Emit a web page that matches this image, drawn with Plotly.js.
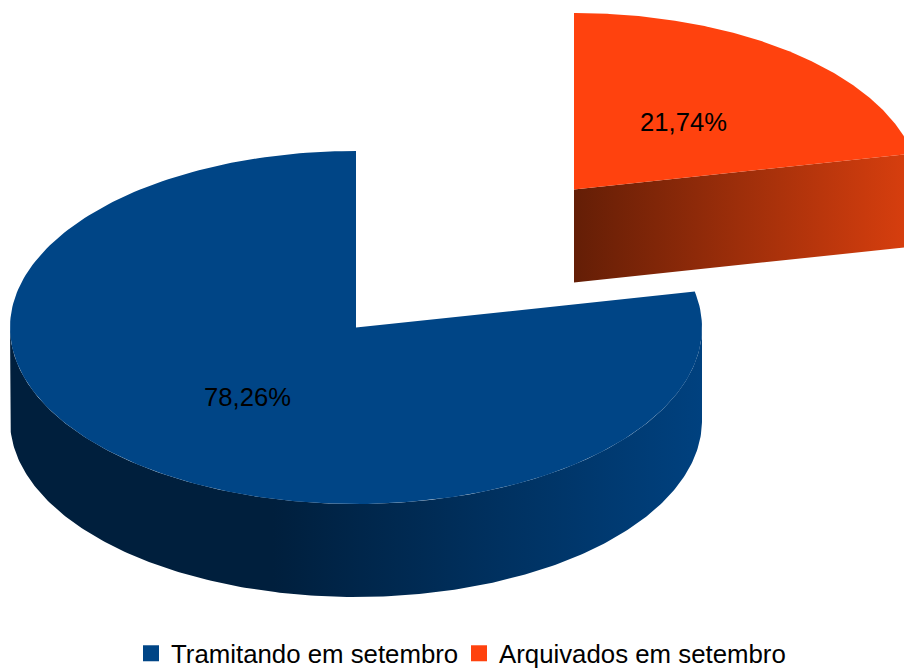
<!DOCTYPE html>
<html>
<head>
<meta charset="utf-8">
<script src="https://cdn.plot.ly/plotly-3.0.1.min.js"></script>
<style>html,body{margin:0;padding:0;background:#fff}#chart{width:904px;height:668px}</style>
</head>
<body>
<div id="chart"></div>
<script>
const categories = ["Tramitando em setembro", "Arquivados em setembro"];
const shares = [78.26, 21.74];
const shareLabels = ["78,26%", "21,74%"];
const topColors = ["#004586", "#ff420e"];

const W = 904, H = 668;
const RX = 346, RY = 176.5, DEPTH = 93;
const FONT = "'Liberation Sans', Arial, sans-serif";
const split = shares[1] / 100 * 2 * Math.PI; // clockwise from 12 o'clock

function pt(cx, cy, a, dy) {
  return [cx + RX * Math.sin(a), cy - RY * Math.cos(a) + (dy || 0)];
}
function arc(cx, cy, a0, a1, dy) {
  const n = 240, out = [];
  for (let i = 0; i <= n; i++) out.push(pt(cx, cy, a0 + (a1 - a0) * i / n, dy));
  return out;
}
function xy(points) {
  return { x: points.map(p => p[0]), y: points.map(p => p[1]) };
}
function shape(points, extra) {
  return Object.assign(xy(points), {
    type: "scatter", mode: "lines", fill: "toself", hoverinfo: "skip",
    line: { width: 0 }, showlegend: false
  }, extra);
}

const c0 = [356, 327.5], c1 = [574, 189.5];

const blueTop = [c0].concat(arc(c0[0], c0[1], split, 2 * Math.PI));
const blueSide = arc(c0[0], c0[1], Math.PI / 2, 1.5 * Math.PI, 0)
  .concat(arc(c0[0], c0[1], 1.5 * Math.PI, Math.PI / 2, DEPTH));
const orangeTop = [c1].concat(arc(c1[0], c1[1], 0, split));
const orangeSide = [c1, pt(c1[0], c1[1], split), pt(c1[0], c1[1], split, DEPTH), [c1[0], c1[1] + DEPTH]];

const traces = [
  shape(blueSide, {
    fillcolor: "#002a52",
    fillgradient: {
      type: "horizontal", start: 10, stop: 702,
      colorscale: [[0, "#001f3d"], [0.38, "#001f3d"], [1, "#00417f"]]
    }
  }),
  shape(blueTop, { fillcolor: topColors[0] }),
  shape(orangeSide, {
    fillcolor: "#992b0a",
    fillgradient: {
      type: "horizontal", start: 574, stop: 904,
      colorscale: [[0, "#641e06"], [1, "#d63e0e"]]
    }
  }),
  shape(orangeTop, { fillcolor: topColors[1] }),
  {
    type: "scatter", mode: "text", hoverinfo: "skip", showlegend: false,
    x: [247.5, 683.5], y: [400, 125], text: shareLabels,
    textposition: "middle center",
    textfont: { family: FONT, size: 25.6, color: "#000" }
  },
  {
    type: "scatter", mode: "markers", name: categories[0], x: [null], y: [null],
    marker: { symbol: "square", size: 16, color: topColors[0] }, legend: "legend"
  },
  {
    type: "scatter", mode: "markers", name: categories[1], x: [null], y: [null],
    marker: { symbol: "square", size: 16, color: topColors[1] }, legend: "legend2"
  }
];

const legendBase = {
  orientation: "h", xref: "paper", yref: "paper", xanchor: "left", yanchor: "middle",
  bgcolor: "rgba(0,0,0,0)", borderwidth: 0, itemsizing: "trace", indentation: -3,
  font: { family: FONT, size: 25.8, color: "#000" }
};

const layout = {
  width: W, height: H,
  margin: { l: 0, r: 0, t: 0, b: 0, pad: 0, autoexpand: false },
  paper_bgcolor: "#fff", plot_bgcolor: "#fff",
  hovermode: false,
  xaxis: { range: [0, W], visible: false, fixedrange: true },
  yaxis: { range: [H, 0], visible: false, fixedrange: true },
  legend: Object.assign({}, legendBase, { x: 134 / W, y: 1 - 653.5 / H }),
  legend2: Object.assign({}, legendBase, { x: 462 / W, y: 1 - 653.5 / H })
};

Plotly.newPlot("chart", traces, layout, { displayModeBar: false, staticPlot: true });
</script>
</body>
</html>
